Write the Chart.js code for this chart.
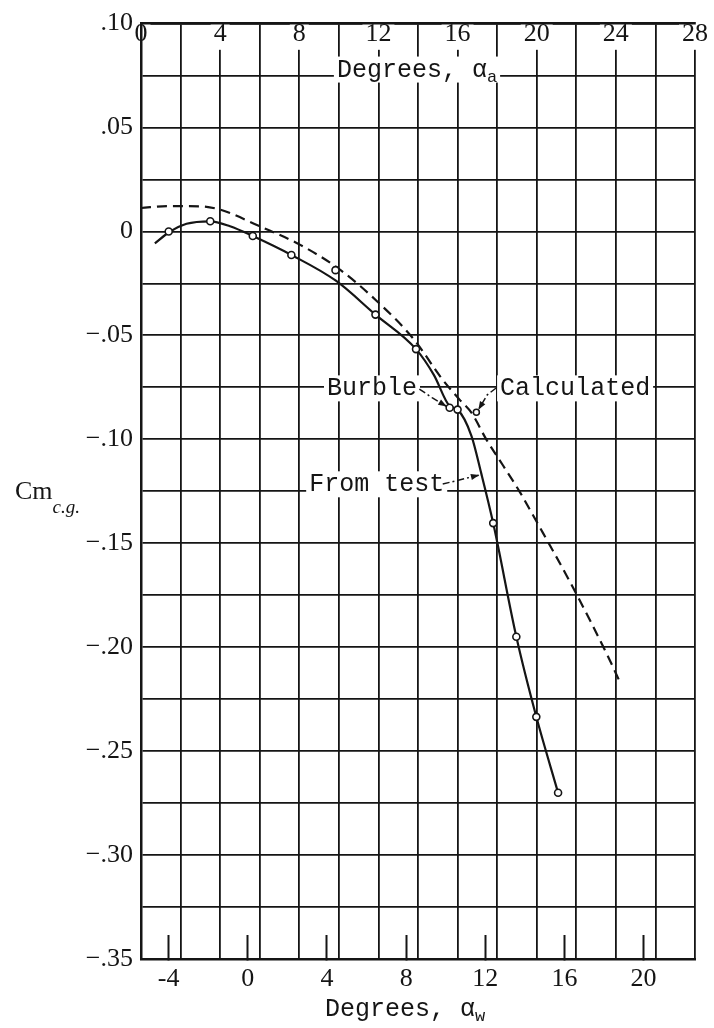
<!DOCTYPE html>
<html>
<head>
<meta charset="utf-8">
<script src="https://cdn.jsdelivr.net/npm/chart.js@4.4.1/dist/chart.umd.min.js"></script>
<style>
  html, body { margin: 0; padding: 0; background: #fff; }
  #wrap { width: 714px; height: 1028px; }
</style>
</head>
<body>
<div id="wrap"><canvas id="chart" width="714" height="1028"></canvas></div>
<script>
// alpha_a (top scale) = alpha_w (bottom scale) + offset
const ALPHA_OFFSET = 5.4;

// ticks and labels
const alphaWTicks = [-4, 0, 4, 8, 12, 16, 20];
const alphaATicks = [0, 4, 8, 12, 16, 20, 24, 28];
const alphaAGrid = [0, 2, 4, 6, 8, 10, 12, 14, 16, 18, 20, 22, 24, 26, 28];
const cmTicks = [0.10, 0.05, 0, -0.05, -0.10, -0.15, -0.20, -0.25, -0.30, -0.35];
const cmTickLabels = ['.10', '.05', '0', '\u2212.05', '\u2212.10', '\u2212.15', '\u2212.20', '\u2212.25', '\u2212.30', '\u2212.35'];
const cmGrid = [0.10, 0.075, 0.05, 0.025, 0, -0.025, -0.05, -0.075, -0.10, -0.125, -0.15,
  -0.175, -0.20, -0.225, -0.25, -0.275, -0.30, -0.325, -0.35];

// faired curve through the test points
const testCurveAlpha = [-4.7, -4.0, -3.1, -1.9, -0.9, 0.25, 2.2, 4.45, 6.45, 8.5, 9.4, 10.2, 10.6, 11.3, 11.8, 12.4, 13.57, 14.58, 15.68];
const testCurveCm = [-0.0057, -0.0005, 0.0037, 0.0049, 0.0025, -0.0022, -0.0113, -0.0237, -0.040, -0.0566, -0.069, -0.0840, -0.0857, -0.0983, -0.1165, -0.1403, -0.195, -0.2335, -0.270];

// test points (circles)
const testAlpha = [-4.0, -1.9, 0.25, 2.2, 4.43, 6.45, 8.5, 10.2, 10.6, 12.4, 13.57, 14.58, 15.68];
const testCm = [0.000, 0.0049, -0.0022, -0.0113, -0.0186, -0.040, -0.0566, -0.0848, -0.0857, -0.1403, -0.195, -0.2335, -0.270];

// calculated curve (dashed)
const calcAlpha = [-5.4, -4.0, -2.4, -1.4, 0.6, 2.6, 4.6, 6.5, 8.4, 9.85, 10.7, 11.3, 12.05, 12.9, 13.75, 14.5, 16.35, 18.3, 18.8];
const calcCm = [0.0113, 0.0122, 0.0121, 0.0105, 0.0025, -0.0062, -0.018, -0.0333, -0.052, -0.0714, -0.0809, -0.0872, -0.100, -0.1126, -0.1254, -0.138, -0.1698, -0.2064, -0.2167];

// calculated burble point
const calcBurbleAlpha = [11.55];
const calcBurbleCm = [-0.087];

const toXY = (xs, ys) => xs.map((v, i) => ({ x: v, y: ys[i] }));

const INK = '#151515';
const tickFont = { family: 'Liberation Serif', size: 26 };
const textFont = '25px "Liberation Mono"';
const subFont = '17px "Liberation Mono"';

function textWithSub(ctx, left, base, main, sub, clear) {
  ctx.font = textFont;
  const w1 = ctx.measureText(main).width;
  ctx.font = subFont;
  const w2 = sub ? ctx.measureText(sub).width : 0;
  if (clear) {
    ctx.fillStyle = '#fff';
    ctx.fillRect(left - 3, base - 20, w1 + w2 + 6, 26);
  }
  ctx.fillStyle = INK;
  ctx.textAlign = 'left';
  ctx.textBaseline = 'alphabetic';
  ctx.font = textFont;
  ctx.fillText(main, left, base);
  if (sub) {
    ctx.font = subFont;
    ctx.fillText(sub, left + w1, base + 5);
  }
}

function leader(ctx, pts) {
  ctx.strokeStyle = INK;
  ctx.fillStyle = INK;
  ctx.lineWidth = 1.5;
  ctx.setLineDash([7, 3, 2, 3]);
  ctx.beginPath();
  pts.forEach((p, i) => (i ? ctx.lineTo(p[0], p[1]) : ctx.moveTo(p[0], p[1])));
  ctx.stroke();
  ctx.setLineDash([]);
  const [x1, y1] = pts[pts.length - 2];
  const [x2, y2] = pts[pts.length - 1];
  const a = Math.atan2(y2 - y1, x2 - x1);
  ctx.beginPath();
  ctx.moveTo(x2, y2);
  ctx.lineTo(x2 - 9 * Math.cos(a - 0.35), y2 - 9 * Math.sin(a - 0.35));
  ctx.lineTo(x2 - 9 * Math.cos(a + 0.35), y2 - 9 * Math.sin(a + 0.35));
  ctx.closePath();
  ctx.fill();
}

// titles and notes, placed through the chart scales
const notesPlugin = {
  id: 'notes',
  afterDatasetsDraw(chart) {
    const { ctx, chartArea } = chart;
    const px = v => chart.scales.x.getPixelForValue(v);
    const py = v => chart.scales.y.getPixelForValue(v);
    ctx.save();

    // axis titles
    textWithSub(ctx, px(4.5), py(0.075) + 1, 'Degrees, \u03b1', 'a', true);
    textWithSub(ctx, px(3.9), chartArea.bottom + 57, 'Degrees, \u03b1', 'w', false);

    ctx.fillStyle = INK;
    ctx.font = '26px "Liberation Serif"';
    ctx.fillText('Cm', chartArea.left - 126, py(-0.1285));
    const wCm = ctx.measureText('Cm').width;
    ctx.font = 'italic 19px "Liberation Serif"';
    ctx.fillText('c.g.', chartArea.left - 126 + wCm, py(-0.1285) + 14);

    // notes
    textWithSub(ctx, px(4.0), py(-0.075) + 8, 'Burble', '', true);
    textWithSub(ctx, px(12.75), py(-0.075) + 8, 'Calculated', '', true);
    textWithSub(ctx, px(3.1), py(-0.125), 'From test', '', true);

    leader(ctx, [[px(8.67), py(-0.0758)], [px(9.33), py(-0.0801)], [px(10.05), py(-0.0842)]]);
    leader(ctx, [[px(12.55), py(-0.0753)], [px(12.1), py(-0.0786)], [px(11.65), py(-0.0858)]]);
    leader(ctx, [[px(9.85), py(-0.1215)], [px(11.7), py(-0.1172)]]);

    ctx.restore();
  }
};

new Chart(document.getElementById('chart'), {
  data: {
    datasets: [
      {
        type: 'line',
        data: toXY(testAlpha, testCm),
        showLine: false,
        pointRadius: 3.5,
        pointBackgroundColor: '#fff',
        pointBorderColor: INK,
        pointBorderWidth: 1.6,
        order: 0,
      },
      {
        type: 'line',
        data: toXY(calcBurbleAlpha, calcBurbleCm),
        showLine: false,
        pointRadius: 3,
        pointBackgroundColor: '#fff',
        pointBorderColor: INK,
        pointBorderWidth: 1.5,
        order: 0,
      },
      {
        type: 'line',
        data: toXY(testCurveAlpha, testCurveCm),
        borderColor: INK,
        borderWidth: 2.2,
        pointRadius: 0,
        cubicInterpolationMode: 'monotone',
        order: 1,
      },
      {
        type: 'line',
        data: toXY(calcAlpha, calcCm),
        borderColor: INK,
        borderWidth: 2.2,
        borderDash: [10, 6],
        pointRadius: 0,
        cubicInterpolationMode: 'monotone',
        order: 1,
      },
    ],
  },
  options: {
    responsive: false,
    animation: false,
    layout: { padding: { top: 15, right: 19, left: 0, bottom: 0 } },
    plugins: { legend: { display: false }, tooltip: { enabled: false } },
    scales: {
      x: {
        type: 'linear',
        position: 'bottom',
        min: -ALPHA_OFFSET,
        max: 28 - ALPHA_OFFSET,
        afterBuildTicks: (s) => { s.ticks = alphaWTicks.map(v => ({ value: v })); },
        afterFit: (s) => { s.height = 69; },
        grid: { drawOnChartArea: false, drawTicks: true, tickLength: -24, tickWidth: 2, tickColor: INK },
        border: { display: true, color: INK, width: 2.5 },
        ticks: { padding: 29, font: tickFont, color: INK, autoSkip: false, maxRotation: 0, callback: v => String(v) },
      },
      x2: {
        type: 'linear',
        position: 'top',
        min: 0,
        max: 28,
        afterBuildTicks: (s) => { s.ticks = alphaAGrid.map(v => ({ value: v })); },
        afterFit: (s) => { s.height = 0; },
        grid: { color: INK, lineWidth: 1.8, drawTicks: false },
        border: { display: true, color: INK, width: 2.5, z: 1 },
        ticks: {
          mirror: true,
          padding: -5,
          font: tickFont,
          color: INK,
          autoSkip: false,
          maxRotation: 0,
          showLabelBackdrop: (c) => alphaATicks.includes(c.tick.value),
          backdropColor: '#fff',
          backdropPadding: { top: -4, bottom: 0, left: 3, right: 3 },
          callback: v => (alphaATicks.includes(v) ? String(v) : ''),
        },
      },
      y: {
        type: 'linear',
        min: -0.35,
        max: 0.10,
        afterBuildTicks: (s) => { s.ticks = cmGrid.map(v => ({ value: v })); },
        afterFit: (s) => { s.width = 141; },
        grid: { color: INK, lineWidth: 1.8, drawTicks: false },
        border: { display: true, color: INK, width: 2.5, z: 1 },
        ticks: {
          padding: 8,
          font: tickFont,
          color: INK,
          autoSkip: false,
          callback: (v) => {
            const i = cmTicks.findIndex(t => Math.abs(t - v) < 1e-6);
            return i >= 0 ? cmTickLabels[i] : '';
          },
        },
      },
    },
  },
  plugins: [notesPlugin],
});
</script>
</body>
</html>
